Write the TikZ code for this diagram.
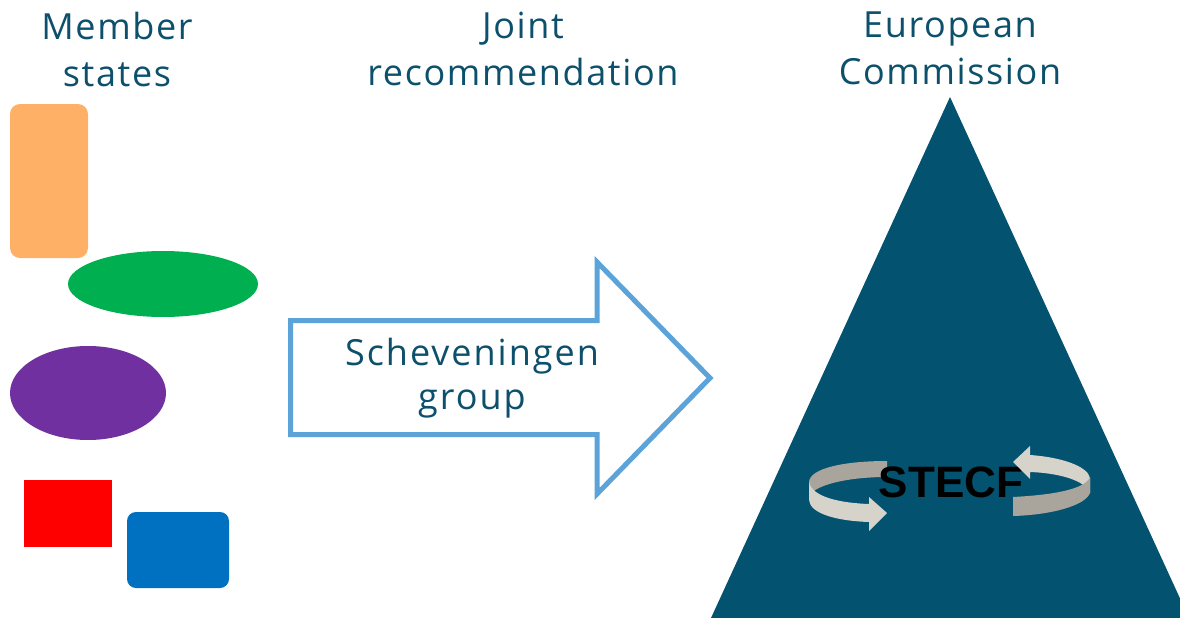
\documentclass[tikz,border=0pt]{standalone}
\usepackage{fontspec}
\setmainfont{Open Sans}
\usetikzlibrary{shapes.geometric}
\definecolor{txtblue}{RGB}{12,80,108}
\definecolor{tri}{RGB}{3,82,112}
\definecolor{arrowblue}{RGB}{91,163,217}
\definecolor{orangebox}{RGB}{255,176,103}
\definecolor{greenell}{RGB}{0,176,80}
\definecolor{purpleell}{RGB}{112,48,160}
\definecolor{redbox}{RGB}{255,0,0}
\definecolor{bluebox}{RGB}{0,112,192}
\definecolor{ribdark}{RGB}{169,165,157}
\definecolor{riblight}{RGB}{214,211,203}
\tikzset{
  heading/.style={text=txtblue, align=center, inner sep=0pt,
    font=\fontsize{36}{47}\selectfont\addfontfeature{LetterSpace=4.5}},
  label/.style={text=txtblue, align=center, inner sep=0pt,
    font=\fontsize{36}{44}\selectfont\addfontfeature{LetterSpace=5.5}},
  shapebox/.style={draw=none, inner sep=0pt},
  bigarrow/.style={draw=arrowblue, line width=5pt, fill=white, line join=miter},
}
\begin{document}
\begin{tikzpicture}[x=1pt,y=-1pt]
\useasboundingbox (0,0) rectangle (1180,618);
% headings
\node[heading] (ms) at (117,49) {Member\\states};
\node[heading] (jr) at (523,49) {Joint\\recommendation};
\node[heading] (ec) at (950,48) {European\\Commission};
% member state shapes
\node[shapebox, fill=orangebox, rounded corners=10pt, minimum width=78pt, minimum height=154pt] (orange) at (49,181) {};
\node[shapebox, ellipse, fill=greenell, minimum width=190pt, minimum height=66pt] (green) at (163,284) {};
\node[shapebox, ellipse, fill=purpleell, minimum width=156pt, minimum height=94pt] (purple) at (88,393) {};
\node[shapebox, fill=redbox, minimum width=88pt, minimum height=67pt] (red) at (68,513.5) {};
\node[shapebox, fill=bluebox, rounded corners=9pt, minimum width=102pt, minimum height=76pt] (blue) at (178,550) {};
% big arrow
\draw[bigarrow] (290.5,320.5) -- (597,320.5) -- (597,262) -- (710,378) -- (597,494) -- (597,434.5) -- (290.5,434.5) -- cycle;
\node[label] (sg) at (472,378) {Scheveningen\\group};
% triangle
\fill[tri] (950,97) -- (1189,618) -- (711,618) -- cycle;
% left cycle arrow
\fill[ribdark] (887,461) .. controls (845,461) and (810,468) .. (809,482) -- (809,497) .. controls (812,486) and (845,477) .. (887,477) -- cycle;
\fill[riblight] (809,482) .. controls (812,497) and (840,503) .. (869,504) -- (869,497) -- (887,513) -- (869,531) -- (869,522) .. controls (838,521) and (810,514) .. (809,500) -- cycle;
\node[inner sep=0pt, font=\fontsize{44}{44}\selectfont\fontspec{Liberation Sans}\bfseries] (stecf) at (951,482) {STECF};
% right cycle arrow
\fill[riblight] (1090,493) -- (1090,478) .. controls (1088,466) and (1060,457) .. (1030,455) -- (1030,446) -- (1013,462) -- (1030,479) -- (1030,472) .. controls (1058,473) and (1085,480) .. (1090,493) -- cycle;
\fill[ribdark] (1013,497) .. controls (1050,495) and (1085,490) .. (1090,477) -- (1090,493) .. controls (1085,506) and (1050,515) .. (1013,516) -- cycle;
\end{tikzpicture}
\end{document}
